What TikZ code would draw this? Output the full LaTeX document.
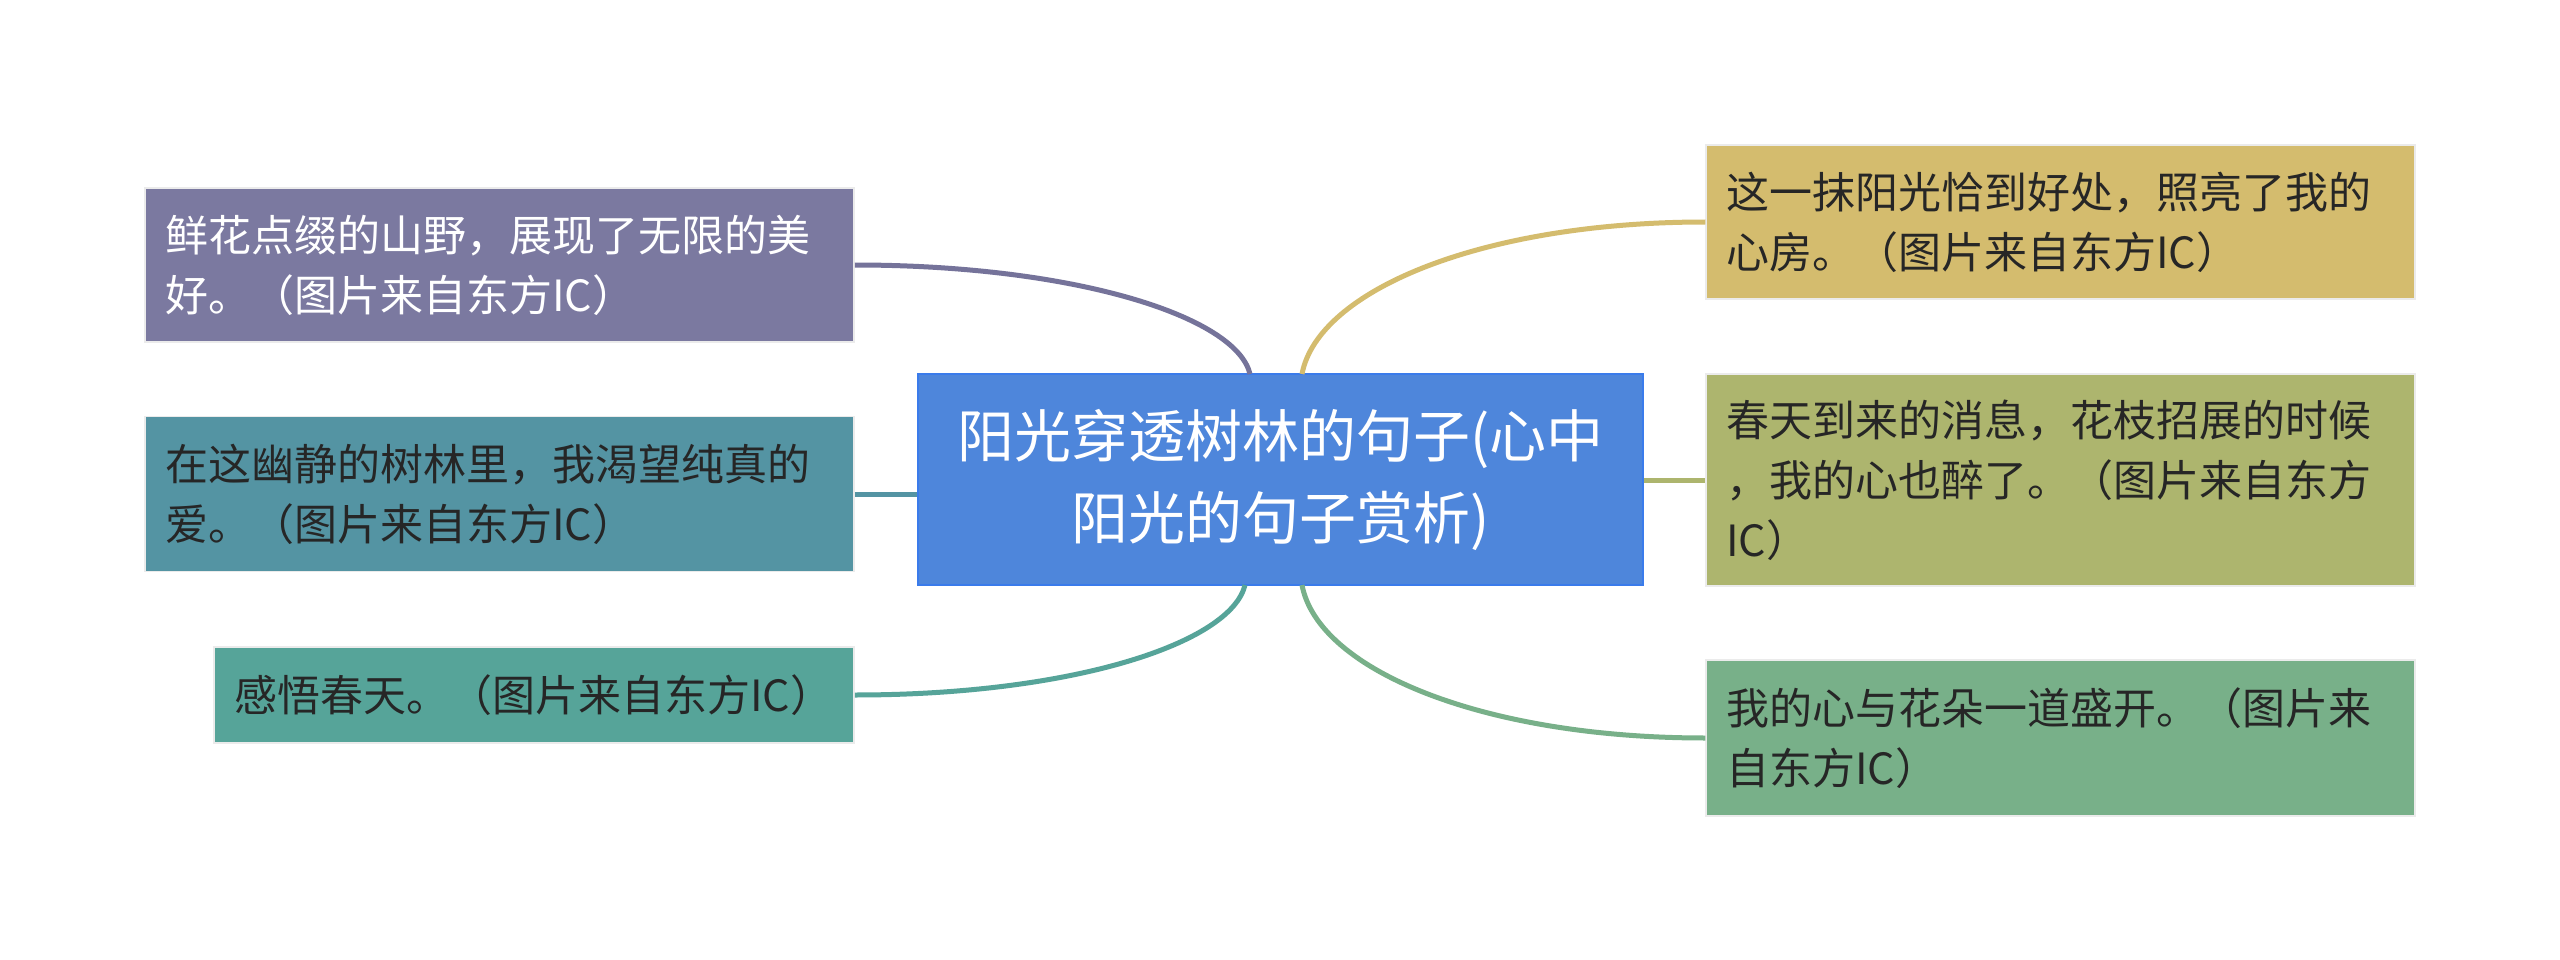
\documentclass[tikz,border=0pt]{standalone}
\usepackage{fontspec}
\newfontfamily\cjk{Noto Sans CJK SC}
\definecolor{cPurple}{HTML}{7B79A0}
\definecolor{cPurpleL}{HTML}{75739A}
\definecolor{cTealB}{HTML}{5494A3}
\definecolor{cTeal}{HTML}{56A499}
\definecolor{cBlue}{HTML}{4E86DB}
\definecolor{cBlueB}{HTML}{3A7BEB}
\definecolor{cGold}{HTML}{D4BC6E}
\definecolor{cOlive}{HTML}{ADB56E}
\definecolor{cGreen}{HTML}{78B089}
\definecolor{cDark}{HTML}{262626}
\tikzset{
  leaf/.style={rectangle, inner sep=0pt, draw=white!92!black, line width=1.5pt,
    minimum width=709pt, minimum height=154pt, text width=669pt, align=left,
    font=\cjk\fontsize{43}{60}\selectfont, text=cDark},
  hub/.style={rectangle, inner sep=0pt, draw=cBlueB, line width=2pt, fill=cBlue,
    minimum width=725pt, minimum height=211pt, text width=710pt, align=center,
    font=\cjk\fontsize{57}{82}\selectfont, text=white},
  link/.style={line width=5pt}
}
\begin{document}
\begin{tikzpicture}[x=1pt,y=-1pt]
\useasboundingbox[fill=white] (0,0) rectangle (2560,960);
% central
\node[hub] (C) at (1280.5,479.5) {阳光穿透树林的句子(心中\\阳光的句子赏析)};
% left
\node[leaf, fill=cPurple, text=white] (L1) at (499.5,265) {鲜花点缀的山野，展现了无限的美\\好。（图片来自东方IC）};
\node[leaf, fill=cTealB, minimum height=155pt] (L2) at (499.5,494) {在这幽静的树林里，我渴望纯真的\\爱。（图片来自东方IC）};
\node[leaf, fill=cTeal, minimum width=640pt, minimum height=96pt, text width=600pt] (L3) at (534,695) {感悟春天。（图片来自东方IC）};
% right
\node[leaf, fill=cGold] (R1) at (2060.5,222) {这一抹阳光恰到好处，照亮了我的\\心房。（图片来自东方IC）};
\node[leaf, fill=cOlive, minimum height=212pt] (R2) at (2060.5,480) {春天到来的消息，花枝招展的时候\\，我的心也醉了。（图片来自东方\\IC）};
\node[leaf, fill=cGreen, minimum height=156pt] (R3) at (2060.5,738) {我的心与花朵一道盛开。（图片来\\自东方IC）};
% anchor points on the hub
\coordinate (CTL) at (1250,374);
\coordinate (CTR) at (1302,374);
\coordinate (CBL) at (1245,585);
\coordinate (CBR) at (1302,585);
% connectors
\draw[link, draw=cPurpleL] (L1.east) .. controls (1073,265) and (1236,316) .. (CTL);
\draw[link, draw=cTealB] (L2.east) -- (C.west |- L2.east);
\draw[link, draw=cTeal] (L3.east) .. controls (1073,695) and (1231,643) .. (CBL);
\draw[link, draw=cGold] (CTR) .. controls (1318,290) and (1483,222) .. (R1.west);
\draw[link, draw=cOlive] (C.east |- R2.west) -- (R2.west);
\draw[link, draw=cGreen] (CBR) .. controls (1318,670) and (1483,738) .. (R3.west);
\end{tikzpicture}
\end{document}
